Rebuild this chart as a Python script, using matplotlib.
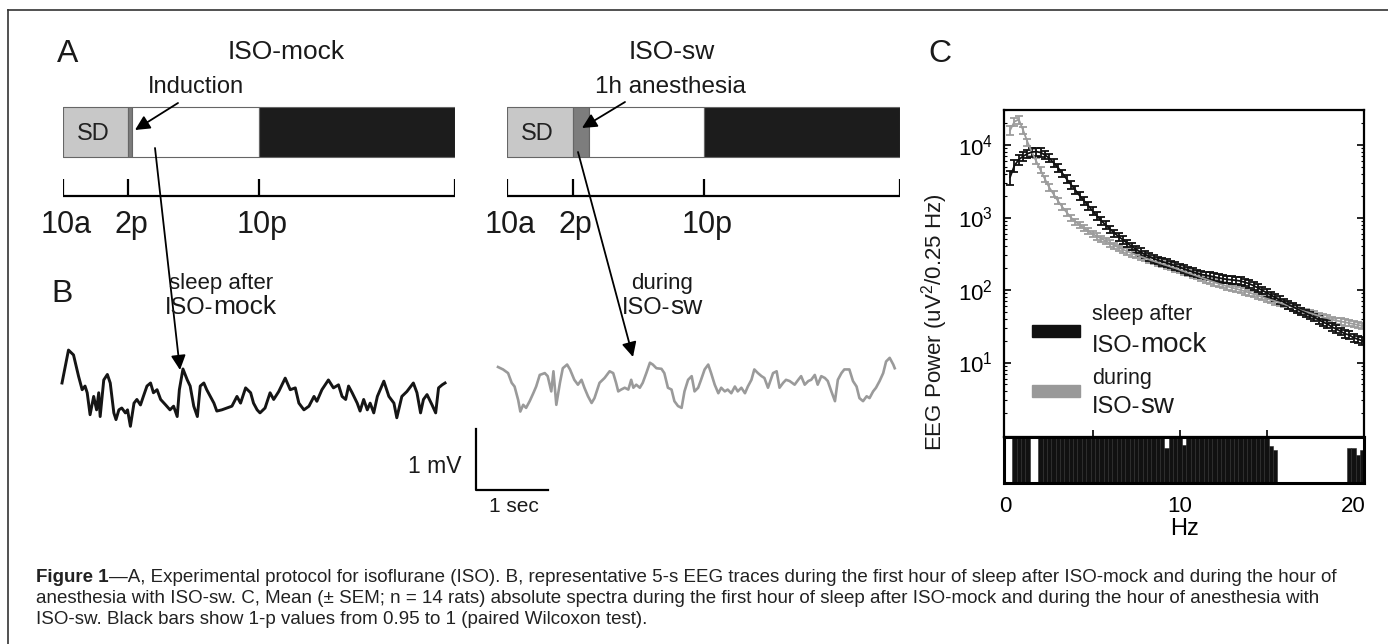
import numpy as np
import matplotlib
matplotlib.use('Agg')
import matplotlib.pyplot as plt
from matplotlib.patches import Rectangle

plt.rcParams['font.family'] = ['Liberation Sans', 'DejaVu Sans']
plt.rcParams['mathtext.fontset'] = 'custom'
plt.rcParams['mathtext.rm'] = 'Liberation Sans'
plt.rcParams['mathtext.default'] = 'regular'

W, H = 1388, 644

# Panel A: protocol, hours after 10 a.m.
seg_start_mock = [0, 4, 4.25, 12]
seg_len_mock = [4, 0.25, 7.75, 12]
seg_start_sw = [0, 4, 5, 12]
seg_len_sw = [4, 1, 7, 12]
tick_hours = [0, 4, 12, 24]
tick_labels = ['10a', '2p', '10p', '']

# Panel B: EEG traces (s, mV)
t_mock = [0.00, 0.09, 0.16, 0.23, 0.28, 0.32, 0.35, 0.39, 0.44, 0.48, 0.51, 0.53, 0.58, 0.63, 0.67,
          0.72, 0.75, 0.79, 0.83, 0.88, 0.91, 0.95, 1.00, 1.04, 1.09, 1.13, 1.18, 1.23, 1.27, 1.32,
          1.37, 1.44, 1.50, 1.55, 1.60, 1.63, 1.68, 1.74, 1.78, 1.83, 1.88, 1.92, 1.97, 2.01, 2.06,
          2.11, 2.15, 2.22, 2.29, 2.36, 2.43, 2.48, 2.55, 2.62, 2.66, 2.71, 2.75, 2.82, 2.89, 2.94,
          3.01, 3.10, 3.17, 3.24, 3.29, 3.36, 3.43, 3.50, 3.54, 3.61, 3.70, 3.77, 3.84, 3.89, 3.94,
          3.98, 4.03, 4.10, 4.14, 4.19, 4.24, 4.28, 4.33, 4.38, 4.47, 4.54, 4.61, 4.65, 4.72, 4.79,
          4.88, 4.93, 4.98, 5.02, 5.07, 5.14, 5.19, 5.23, 5.28, 5.32]
v_mock = [0.00, 0.54, 0.46, 0.11, -0.11, -0.05, -0.16, -0.52, -0.22, -0.44, -0.16, -0.55, 0.05, 0.14, 0.00,
          -0.49, -0.60, -0.44, -0.41, -0.49, -0.44, -0.71, -0.33, -0.27, -0.36, -0.22, -0.05, 0.00, -0.16, -0.11,
          -0.27, -0.36, -0.44, -0.38, -0.55, -0.11, 0.23, 0.05, -0.05, -0.38, -0.55, -0.05, 0.00, -0.11, -0.22,
          -0.33, -0.46, -0.44, -0.41, -0.38, -0.22, -0.33, -0.08, -0.16, -0.33, -0.44, -0.49, -0.41, -0.16, -0.27,
          -0.14, 0.08, -0.11, -0.08, -0.33, -0.44, -0.38, -0.22, -0.30, -0.11, 0.05, -0.08, -0.03, -0.22, -0.27,
          -0.05, -0.16, -0.33, -0.46, -0.27, -0.44, -0.33, -0.49, -0.22, 0.03, -0.22, -0.33, -0.57, -0.22, -0.14,
          0.00, -0.16, -0.49, -0.27, -0.19, -0.36, -0.49, -0.08, -0.03, 0.00]
t_sw = [0.00, 0.07, 0.14, 0.19, 0.23, 0.28, 0.31, 0.35, 0.39, 0.44, 0.49, 0.53, 0.58, 0.65, 0.69,
        0.74, 0.77, 0.81, 0.86, 0.90, 0.96, 1.00, 1.06, 1.11, 1.16, 1.20, 1.25, 1.30, 1.34, 1.41,
        1.48, 1.55, 1.60, 1.64, 1.67, 1.71, 1.76, 1.81, 1.85, 1.88, 1.92, 1.97, 2.01, 2.06, 2.11,
        2.15, 2.20, 2.27, 2.31, 2.36, 2.41, 2.45, 2.50, 2.55, 2.59, 2.64, 2.69, 2.73, 2.78, 2.82,
        2.87, 2.92, 2.96, 3.01, 3.06, 3.10, 3.15, 3.19, 3.24, 3.29, 3.33, 3.38, 3.43, 3.47, 3.52,
        3.56, 3.61, 3.66, 3.70, 3.75, 3.82, 3.87, 3.91, 3.96, 4.00, 4.05, 4.12, 4.17, 4.21, 4.26,
        4.31, 4.35, 4.40, 4.44, 4.49, 4.54, 4.58, 4.63, 4.68, 4.72, 4.77, 4.81, 4.88, 4.93, 4.98,
        5.02, 5.07, 5.12, 5.16, 5.21, 5.25, 5.30, 5.35, 5.39, 5.44, 5.49, 5.51]
v_sw = [0.00, -0.04, -0.10, -0.26, -0.32, -0.54, -0.73, -0.62, -0.67, -0.56, -0.43, -0.32, -0.13, -0.10, -0.15,
        -0.40, -0.07, -0.62, -0.26, -0.02, 0.04, -0.04, -0.21, -0.29, -0.21, -0.34, -0.48, -0.59, -0.51, -0.26,
        -0.18, -0.07, -0.10, -0.26, -0.40, -0.37, -0.34, -0.37, -0.21, -0.34, -0.29, -0.34, -0.26, -0.10, 0.07,
        0.04, -0.02, -0.03, -0.10, -0.34, -0.37, -0.56, -0.64, -0.67, -0.40, -0.21, -0.15, -0.40, -0.34, -0.21,
        -0.04, 0.04, -0.10, -0.29, -0.43, -0.34, -0.40, -0.37, -0.43, -0.32, -0.40, -0.34, -0.43, -0.32, -0.21,
        -0.04, -0.10, -0.15, -0.18, -0.34, -0.10, -0.07, -0.34, -0.26, -0.21, -0.23, -0.29, -0.21, -0.15, -0.29,
        -0.23, -0.21, -0.13, -0.29, -0.15, -0.18, -0.23, -0.40, -0.56, -0.21, -0.10, -0.04, -0.04, -0.23, -0.32,
        -0.51, -0.56, -0.48, -0.51, -0.40, -0.34, -0.23, -0.10, 0.09, 0.15, 0.04, -0.02]

# Panel C: spectra at 0.25 Hz bins (uV^2 / 0.25 Hz)
freq = np.arange(0.25, 20.51, 0.25)
power_mock = [3600, 5200, 6300, 7000, 7600, 8000, 8100, 7900, 7300, 6600, 5700, 4900, 4100, 3400, 2850, 2400,
              2000, 1700, 1450, 1230, 1050, 900, 790, 690, 610, 545, 490, 440, 400, 365, 335, 310,
              290, 272, 258, 246, 236, 226, 216, 206, 196, 186, 177, 170, 164, 160, 156, 152,
              147, 143, 140, 138, 136, 133, 128, 122, 115, 107, 99, 92, 85, 79, 73, 68,
              63, 59, 55, 51, 48, 45, 42, 39, 36, 34, 31, 29, 27, 25, 24, 22, 21, 20]
power_sw = [16000, 21000, 22500, 16000, 11000, 8000, 6000, 4500, 3400, 2600, 2100, 1700, 1400, 1180, 1000, 880,
            790, 715, 650, 595, 550, 510, 475, 440, 410, 385, 360, 340, 322, 305, 290, 276,
            263, 251, 240, 229, 219, 209, 200, 190, 181, 172, 164, 156, 148, 141, 134, 128,
            122, 117, 112, 108, 104, 100, 96, 92, 88, 84, 80, 76, 73, 70, 67, 64,
            61, 58, 55, 52, 50, 48, 46, 44, 42, 41, 39, 38, 37, 36, 35, 34, 33, 32]
sem_mock_pct = [22, 18, 16, 15, 14, 14, 14, 14, 13, 13, 13, 13, 12, 12, 12, 12,
                12, 12, 12, 12, 12, 12, 12, 12, 12, 12, 12, 12, 12, 12, 12, 12,
                12, 12, 12, 12, 12, 12, 12, 12, 12, 12, 12, 12, 12, 12, 12, 12,
                12, 12, 12, 12, 12, 12, 12, 12, 12, 12, 12, 12, 12, 12, 12, 12,
                12, 12, 12, 12, 12, 12, 12, 12, 12, 12, 12, 12, 12, 12, 12, 12, 12, 12]
sem_sw_pct = [15, 14, 13, 12, 11, 11, 10, 10, 10, 10, 10, 10, 10, 10, 10, 10,
              10, 10, 10, 10, 10, 10, 10, 10, 10, 10, 10, 10, 10, 10, 10, 10,
              10, 10, 10, 10, 10, 10, 10, 10, 10, 10, 10, 10, 10, 10, 10, 10,
              10, 10, 10, 10, 10, 10, 10, 10, 10, 10, 10, 10, 10, 10, 10, 10,
              10, 10, 10, 10, 10, 10, 10, 10, 10, 10, 10, 10, 10, 10, 10, 10, 10, 10]
one_minus_p = [0.90, 1.0, 1.0, 1.0, 1.0, 0.90, 0.92,
               1.0, 1.0, 1.0, 1.0, 1.0, 1.0, 1.0, 1.0, 1.0, 1.0, 1.0, 1.0, 1.0, 1.0, 1.0,
               1.0, 1.0, 1.0, 1.0, 1.0, 1.0, 1.0, 1.0, 1.0, 1.0, 1.0, 1.0, 1.0, 1.0,
               0.988, 1.0, 1.0, 1.0, 0.991,
               1.0, 1.0, 1.0, 1.0, 1.0, 1.0, 1.0, 1.0, 1.0, 1.0, 1.0, 1.0, 1.0, 1.0,
               1.0, 1.0, 1.0, 1.0, 1.0,
               0.990, 0.986,
               0.94, 0.90, 0.85, 0.80, 0.70, 0.60, 0.50, 0.40, 0.30, 0.20, 0.30, 0.50,
               0.60, 0.70, 0.80, 0.90,
               0.988, 0.988, 0.980, 0.986]

caption = [
    "—A, Experimental protocol for isoflurane (ISO). B, representative 5-s EEG traces during the first hour "
    "of sleep after ISO-mock and during the hour of",
    "anesthesia with ISO-sw. C, Mean (± SEM; n = 14 rats) absolute spectra during the first hour of sleep "
    "after ISO-mock and during the hour of anesthesia with",
    "ISO-sw. Black bars show 1-p values from 0.95 to 1 (paired Wilcoxon test).",
]

fig = plt.figure(figsize=(W / 100, H / 100), dpi=100)


def px_axes(x0, y0, x1, y1):
    return fig.add_axes([x0 / W, 1 - y1 / H, (x1 - x0) / W, (y1 - y0) / H])


ov = px_axes(0, 0, W, H)
ov.set_xlim(0, W)
ov.set_ylim(H, 0)
ov.axis('off')
ov.set_zorder(5)
renderer = fig.canvas.get_renderer()


def run_text(x, y, parts, ha='left', color='#1a1a1a'):
    items = [ov.text(x, y, s, fontsize=fs, fontweight=wt, va='baseline', ha='left', color=color)
             for s, fs, wt in parts]
    widths = [t.get_window_extent(renderer).width for t in items]
    x0 = x - sum(widths) / 2 if ha == 'center' else x
    for t, w in zip(items, widths):
        t.set_x(x0)
        x0 += w


# frame
ov.plot([8, 8], [10, H], color='#333', lw=1.2)
ov.plot([8, W], [10, 10], color='#333', lw=1.2)

# ---- Panel A
seg_colors = ['#c8c8c8', '#7d7d7d', 'white', '#1c1c1c']
for (x0, x1), starts, lens in [((63, 455), seg_start_mock, seg_len_mock),
                               ((507, 900), seg_start_sw, seg_len_sw)]:
    ax = px_axes(x0, 95, x1, 245)
    ax.set_xlim(0, 24)
    ax.set_ylim(245, 95)
    ax.axis('off')
    ax.broken_barh(list(zip(starts, lens)), (107, 50), facecolors=seg_colors,
                   edgecolor='#666', lw=0.8)
    ax.text(1.85, 140, 'SD', fontsize=17, ha='center', va='baseline', color='#222')
    ax.plot([0, 24], [196, 196], color='k', lw=1.6, solid_capstyle='butt')
    ax.vlines(tick_hours, 179, 196, color='k', lw=1.6)
    for h, lab in zip(tick_hours, tick_labels):
        ax.text(h + 0.2, 233, lab, fontsize=22, ha='center', va='baseline', color='#1a1a1a')

ov.text(68, 62, 'A', fontsize=23, ha='center', va='baseline', color='#1a1a1a')
ov.text(286, 59, 'ISO-mock', fontsize=19, ha='center', va='baseline', color='#1a1a1a')
ov.text(672, 59, 'ISO-sw', fontsize=19, ha='center', va='baseline', color='#1a1a1a')
ov.text(196, 93, 'Induction', fontsize=17, ha='center', va='baseline', color='#1a1a1a')
ov.text(670, 93, '1h anesthesia', fontsize=17.5, ha='center', va='baseline', color='#1a1a1a')

arrow = dict(arrowstyle='-|>', color='k', lw=1.3, mutation_scale=22, shrinkA=0, shrinkB=0)
ov.annotate('', xy=(135, 130), xytext=(178, 103), arrowprops=arrow)
ov.annotate('', xy=(180, 370), xytext=(155, 148), arrowprops=arrow)
ov.annotate('', xy=(582, 128), xytext=(625, 102), arrowprops=arrow)
ov.annotate('', xy=(633, 357), xytext=(578, 152), arrowprops=arrow)

# ---- Panel B
ov.text(62, 302, 'B', fontsize=23, ha='center', va='baseline', color='#1a1a1a')
run_text(221, 289, [('sleep after', 16, 'normal')], ha='center')
run_text(221, 314, [('ISO-', 17, 'normal'), ('mock', 19, 'normal')], ha='center')
run_text(662, 289, [('during', 16, 'normal')], ha='center')
run_text(662, 314, [('ISO-', 17, 'normal'), ('sw', 19, 'normal')], ha='center')

px_s, px_mv, ox, oy = 72, 61, 62, 383
tr = px_axes(40, 330, 920, 520)
tr.set_xlim((40 - ox) / px_s, (920 - ox) / px_s)
tr.set_ylim((oy - 520) / px_mv, (oy - 330) / px_mv)
tr.axis('off')
tr.plot(t_mock, v_mock, color='#151515', lw=2.1, solid_joinstyle='round')
tr.plot(np.array(t_sw) + (498 - ox) / px_s, np.array(v_sw) + (oy - 367) / px_mv,
        color='#9a9a9a', lw=1.9, solid_joinstyle='round')
sb_t, sb_v = (476 - ox) / px_s, (oy - 490) / px_mv
tr.plot([sb_t, sb_t, sb_t + 1], [sb_v + 1, sb_v, sb_v], color='k', lw=1.6)
ov.text(462, 473, '1 mV', fontsize=16.5, ha='right', va='baseline', color='#1a1a1a')
ov.text(514, 512, '1 sec', fontsize=15, ha='center', va='baseline', color='#1a1a1a')

# ---- Panel C
ov.text(940, 62, 'C', fontsize=23, ha='center', va='baseline', color='#1a1a1a')
ax = px_axes(1004, 110, 1364, 437)
pm, ps = np.array(power_mock, float), np.array(power_sw, float)
em, es = pm * np.array(sem_mock_pct) / 100, ps * np.array(sem_sw_pct) / 100
ax.errorbar(freq, ps, yerr=es, color='#9c9c9c', lw=1.3, elinewidth=1.3,
            capsize=2.8, capthick=1.3)
ax.errorbar(freq, pm, yerr=em, color='#111111', lw=1.3, elinewidth=1.3,
            capsize=2.8, capthick=1.3)
ax.set_yscale('log')
ax.set_xlim(-0.1, 20.6)
ax.set_ylim(0.94, 30400)
ax.set_yticks([10, 100, 1000, 10000])
ax.set_xticks([5, 10, 15])
ax.tick_params(axis='y', which='both', direction='in', right=True, labelsize=16, pad=8)
ax.tick_params(axis='y', which='major', length=5, width=1.2)
ax.tick_params(axis='y', which='minor', length=2.5, width=0.8)
ax.tick_params(axis='x', direction='in', length=5, width=1.2, labelbottom=False)
for s in ax.spines.values():
    s.set_linewidth(1.6)

st = px_axes(1004, 437, 1364, 483)
st.bar(freq, one_minus_p, width=0.25, color='#111111', edgecolor='#2a2a2a', lw=0.4)
st.set_xlim(-0.1, 20.6)
st.set_ylim(0.95, 1.0)
st.set_yticks([])
st.set_xticks([0, 10, 20])
st.tick_params(axis='x', length=0, labelsize=16, pad=9)
st.set_xlabel('Hz', fontsize=17, labelpad=1)
for s in st.spines.values():
    s.set_linewidth(2.2)

ov.text(935, 322, 'EEG Power (uV$^2$/0.25 Hz)', fontsize=16, rotation=90,
        ha='center', va='center', color='#1a1a1a')

# legend
ov.add_patch(Rectangle((1032, 325), 48, 12, color='#111111'))
ov.add_patch(Rectangle((1032, 385), 48, 12, color='#999999'))
run_text(1092, 320, [('sleep after', 15.5, 'normal')])
run_text(1092, 352, [('ISO-', 17, 'normal'), ('mock', 20, 'normal')])
run_text(1092, 384, [('during', 15.5, 'normal')])
run_text(1092, 413, [('ISO-', 17, 'normal'), ('sw', 20, 'normal')])

# ---- caption
cap_font = ['Liberation Sans Narrow', 'Liberation Sans']
first = ov.text(36, 582, 'Figure 1', fontsize=13.5, fontweight='bold', va='baseline',
                family=cap_font, color='#222')
wfirst = first.get_window_extent(renderer).width
for i, line in enumerate(caption):
    ov.text(36 + (wfirst if i == 0 else 0), 582 + 21 * i, line, fontsize=13.5,
            va='baseline', family=cap_font, color='#222')

fig.savefig('out.png', dpi=100)
